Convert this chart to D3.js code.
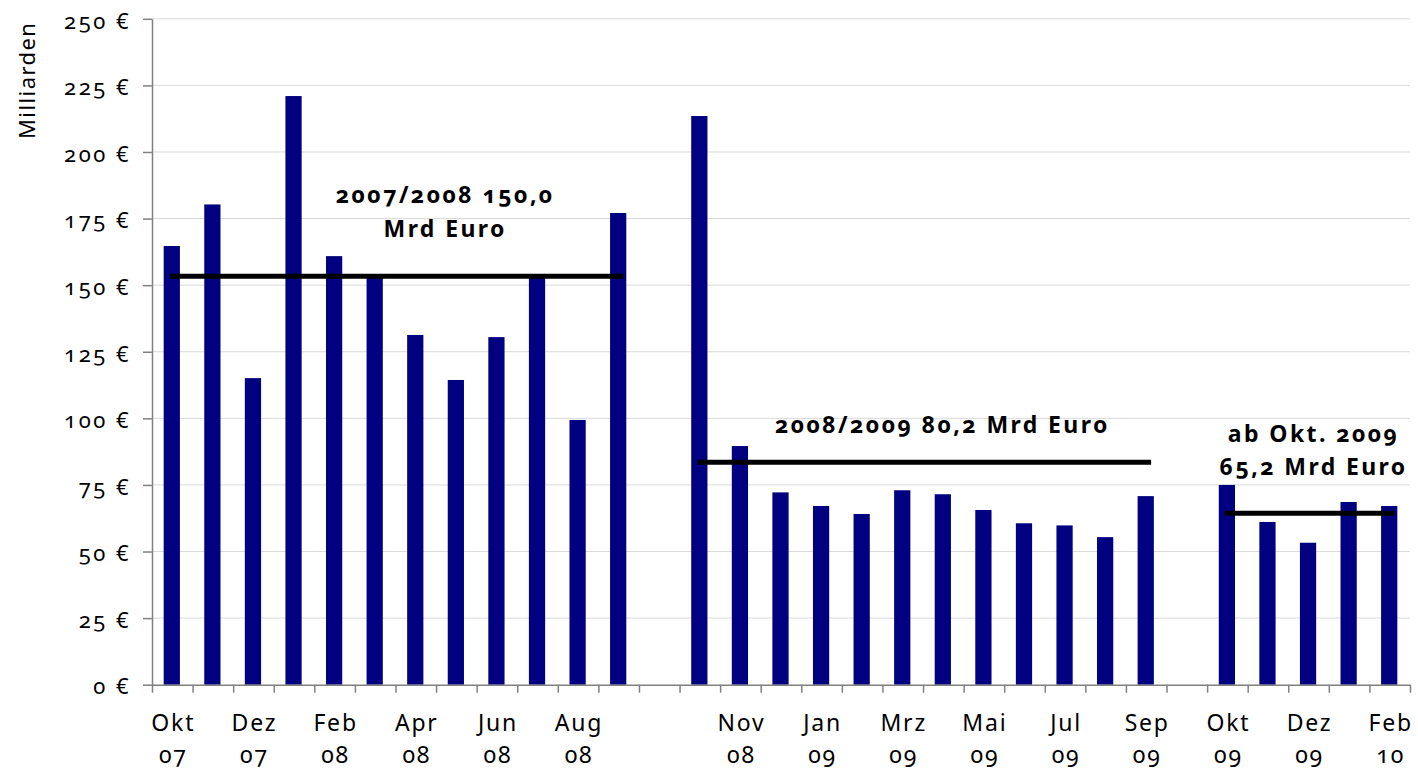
<!DOCTYPE html>
<html>
<head>
<meta charset="utf-8">
<script src="https://cdn.jsdelivr.net/npm/d3@7"></script>
<style>
  html, body { margin: 0; padding: 0; background: #fff; }
  svg text { font-family: "Noto Sans", "Open Sans", sans-serif; font-variant-numeric: oldstyle-nums; fill: #000; }
</style>
</head>
<body>
<svg id="chart" width="1418" height="771"></svg>
<script>
// ---- data ----
const months = ["Okt","Nov","Dez","Jan","Feb","Mrz","Apr","Mai","Jun","Jul","Aug","Sep","",
                "Okt","Nov","Dez","Jan","Feb","Mrz","Apr","Mai","Jun","Jul","Aug","Sep","",
                "Okt","Nov","Dez","Jan","Feb"];
const years  = ["07","07","07","08","08","08","08","08","08","08","08","08","",
                "08","08","08","09","09","09","09","09","09","09","09","09","",
                "09","09","09","10","10"];
const values = [164.7,180.3,115.1,221.0,160.9,153.0,131.3,114.4,130.5,153.3,99.4,177.1,null,
                213.5,89.6,72.2,67.1,64.1,73.0,71.5,65.6,60.6,59.8,55.4,70.8,null,
                75.0,61.1,53.3,68.6,67.1];
const yTicks = [0,25,50,75,100,125,150,175,200,225,250];
const avgValues = [153.3, 83.5, 64.4];
const avgStart  = [0, 13, 26];
const avgEnd    = [11, 24, 30];
const annoLines = [["2007/2008 150,0","Mrd Euro"],["2008/2009 80,2 Mrd Euro"],["ab Okt. 2009","65,2 Mrd Euro"]];
const yLabel = "Milliarden";

// ---- layout ----
const svg = d3.select("#chart");
const pLeft = 152, pRight = 1410, pTop = 18.8, pBottom = 684.7;
const n = months.length;
const idx = d3.range(n);

const y = d3.scaleLinear().domain([0, 250]).range([pBottom, pTop]);
const x = d3.scaleBand().domain(idx).range([pLeft, pRight]).paddingInner(0.6).paddingOuter(0.3);
const xc = d3.scaleLinear().domain([0, n]).range([pLeft, pRight]); // category units

// gridlines
svg.append("g").selectAll("line").data(yTicks.filter(d => d > 0)).join("line")
  .attr("x1", pLeft).attr("x2", pRight)
  .attr("y1", d => y(d)).attr("y2", d => y(d))
  .attr("stroke", "#d9d9d9").attr("stroke-width", 1);

// bars
svg.append("g").selectAll("rect").data(idx.filter(i => values[i] != null)).join("rect")
  .attr("x", i => x(i) - 0.5).attr("width", x.bandwidth())
  .attr("y", i => y(values[i])).attr("height", i => y(0) - y(values[i]))
  .attr("fill", "#000080");

// y axis
const yAxis = svg.append("g").attr("transform", `translate(${pLeft},0)`)
  .call(d3.axisLeft(y).tickValues(yTicks).tickSize(9).tickSizeOuter(0).tickPadding(12)
        .tickFormat(d => d + " €"));
yAxis.attr("font-family", null).attr("font-size", null);
yAxis.select(".domain").attr("stroke", "#808080").attr("stroke-width", 1.5);
yAxis.selectAll(".tick line").attr("stroke", "#808080").attr("stroke-width", 1.5);
yAxis.selectAll(".tick text").attr("font-size", 22).attr("letter-spacing", "2.5px")
  .attr("fill", "#000").attr("dy", "0.42em");

// x axis (ticks at category boundaries)
const xAxis = svg.append("g").attr("transform", `translate(0,${pBottom})`)
  .call(d3.axisBottom(xc).tickValues(d3.range(n + 1)).tickSize(8).tickSizeOuter(0).tickFormat(""));
xAxis.select(".domain").attr("stroke", "#808080").attr("stroke-width", 1.5);
xAxis.selectAll(".tick line").attr("stroke", "#808080").attr("stroke-width", 1.5);

// x labels (every second category)
const labelIdx = idx.filter(i => i % 2 === 0 && months[i] !== "");
const lab = svg.append("g").selectAll("text").data(labelIdx).join("text")
  .attr("text-anchor", "middle")
  .attr("font-size", 23)
  .attr("letter-spacing", "1.8px");
lab.append("tspan").attr("x", i => x(i) + x.bandwidth() / 2 + 1).attr("y", 731).text(i => months[i]);
lab.append("tspan").attr("x", i => x(i) + x.bandwidth() / 2 + 1).attr("y", 763).text(i => years[i]);

// y-axis title
svg.append("text")
  .attr("transform", `translate(35,${(pTop + 142) / 2}) rotate(-90)`)
  .attr("text-anchor", "middle").attr("font-size", 22).attr("letter-spacing", "1.4px")
  .text(yLabel);

// average lines
svg.append("g").selectAll("line").data(avgValues).join("line")
  .attr("x1", (d, k) => xc(avgStart[k] + 0.44))
  .attr("x2", (d, k) => xc(avgEnd[k] + 0.62))
  .attr("y1", d => y(d)).attr("y2", d => y(d))
  .attr("stroke", "#000").attr("stroke-width", 5);

// annotations: center in category units, baselines in value units
const annoPos = [
  { cx: 7.2,  base: [180.8, 168.1] },
  { cx: 19.45, base: [94.4] },
  { cx: 28.6, base: [91.1, 78.7] }
];
annoLines.forEach((lines, k) => {
  lines.forEach((t, j) => {
    svg.append("text")
      .attr("x", xc(annoPos[k].cx) + 1).attr("y", y(annoPos[k].base[j]))
      .attr("text-anchor", "middle").attr("font-size", 23).attr("font-weight", "bold")
      .attr("letter-spacing", "2.4px")
      .text(t);
  });
});
</script>
</body>
</html>
